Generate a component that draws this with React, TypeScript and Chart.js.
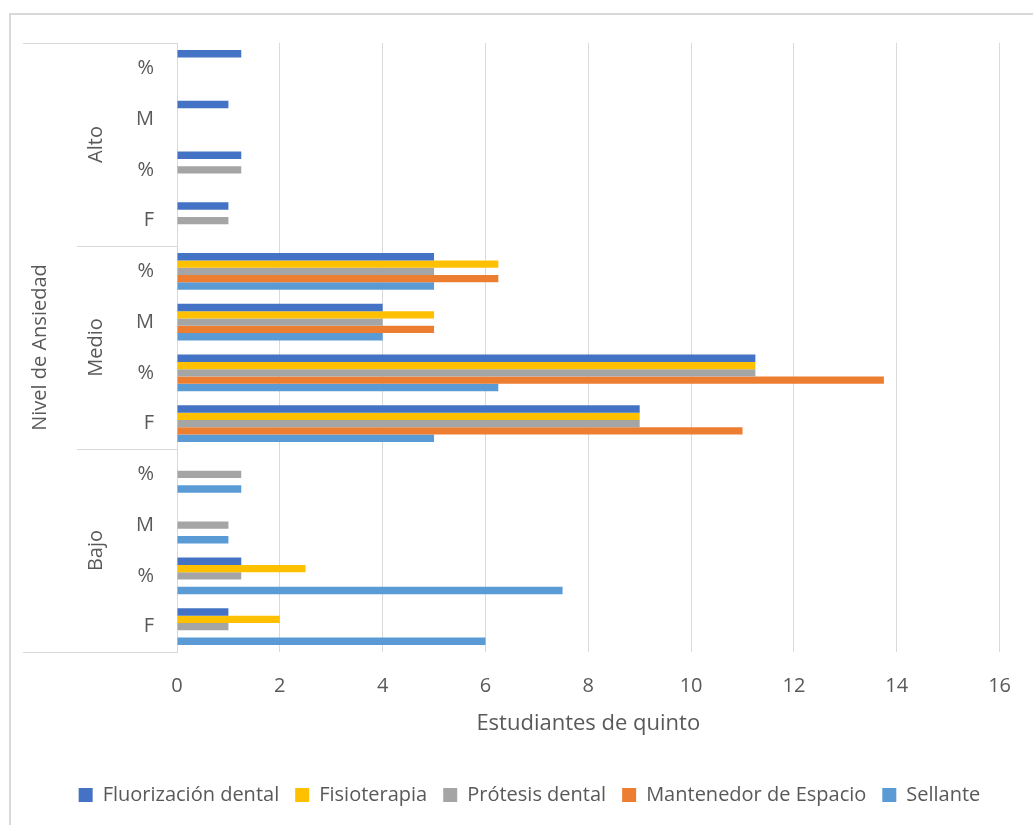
import React, { useEffect, useRef } from 'react';
import { Chart, registerables } from 'chart.js';

Chart.register(...registerables);

// Category labels, top to bottom
const subLabels = ['%', 'M', '%', 'F', '%', 'M', '%', 'F', '%', 'M', '%', 'F'];
const groupLabels = ['Alto', 'Medio', 'Bajo'];
const groupSize = 4;

// Series values (same order as subLabels)
const fluorizacion = [1.25, 1, 1.25, 1, 5, 4, 11.25, 9, null, null, 1.25, 1];
const fisioterapia = [null, null, null, null, 6.25, 5, 11.25, 9, null, null, 2.5, 2];
const protesis = [null, null, 1.25, 1, 5, 4, 11.25, 9, 1.25, 1, 1.25, 1];
const mantenedor = [null, null, null, null, 6.25, 5, 13.75, 11, null, null, null, null];
const sellante = [null, null, null, null, 5, 4, 6.25, 5, 1.25, 1, 7.5, 6];

const seriesNames = ['Fluorización dental', 'Fisioterapia', 'Prótesis dental', 'Mantenedor de Espacio', 'Sellante'];
const seriesValues = [fluorizacion, fisioterapia, protesis, mantenedor, sellante];
const seriesColors = ['#4472C4', '#FFC000', '#A5A5A5', '#ED7D31', '#5B9BD5'];

const xMin = 0;
const xMax = 16;
const xStep = 2;
const xTitle = 'Estudiantes de quinto';
const yTitle = 'Nivel de Ansiedad';

const FONT = "'Open Sans', sans-serif";
const TEXT = '#595959';
const LINE = '#d9d9d9';

const groupPlugin = {
  id: 'groupAxis',
  beforeDraw(chart: any) {
    const ctx = chart.ctx;
    ctx.save();
    ctx.fillStyle = '#ffffff';
    ctx.fillRect(0, 0, chart.width, chart.height);
    ctx.fillStyle = LINE;
    ctx.fillRect(9, 13, 2, chart.height - 13);
    ctx.fillRect(9, 13, chart.width - 9, 2);
    ctx.restore();
  },
  afterLayout(chart: any) {
    const lg = chart.legend;
    if (lg) {
      lg.left += 28;
      lg.right += 28;
    }
  },
  afterDraw(chart: any) {
    const ctx = chart.ctx;
    const y = chart.scales.y;
    const area = chart.chartArea;
    const half = (y.getPixelForValue(1) - y.getPixelForValue(0)) / 2;
    ctx.save();
    ctx.strokeStyle = LINE;
    ctx.lineWidth = 1;
    const line = (x0: number, yy: number) => {
      const py = Math.round(yy) + 0.5;
      ctx.beginPath();
      ctx.moveTo(x0, py);
      ctx.lineTo(area.left, py);
      ctx.stroke();
    };
    groupLabels.forEach((g, i) => {
      const top = y.getPixelForValue(i * groupSize) - half;
      const bottom = y.getPixelForValue(i * groupSize + groupSize - 1) + half;
      line(i === 0 ? 23 : 77, top);
      if (i === groupLabels.length - 1) line(23, bottom);
      ctx.save();
      ctx.translate(96, (top + bottom) / 2);
      ctx.rotate(-Math.PI / 2);
      ctx.fillStyle = TEXT;
      ctx.font = `20px ${FONT}`;
      ctx.textAlign = 'center';
      ctx.textBaseline = 'middle';
      ctx.fillText(g, 0, 0);
      ctx.restore();
    });
    ctx.restore();
  },
};

export default function App() {
  const ref = useRef<HTMLCanvasElement>(null);
  useEffect(() => {
    if (!ref.current) return;
    const chart = new Chart(ref.current, {
      type: 'bar',
      data: {
        labels: subLabels,
        datasets: seriesNames.map((name, i) => ({
          label: name,
          data: seriesValues[i] as any,
          backgroundColor: seriesColors[i],
          borderWidth: 0,
          categoryPercentage: 0.72,
          barPercentage: 1,
        })),
      },
      options: {
        indexAxis: 'y',
        responsive: false,
        animation: false,
        layout: { padding: { top: 43, right: 30, left: 0, bottom: 10 } },
        scales: {
          x: {
            min: xMin,
            max: xMax,
            ticks: { stepSize: xStep, color: TEXT, font: { family: FONT, size: 20 }, padding: 22 },
            grid: { color: LINE, drawTicks: false },
            border: { display: false },
            title: {
              display: true,
              text: xTitle,
              color: TEXT,
              font: { family: FONT, size: 22 },
              padding: { top: 0, bottom: 32 },
            },
            afterFit: (s: any) => { s.height = 117; },
          },
          y: {
            ticks: { color: TEXT, font: { family: FONT, size: 20 }, padding: 23, autoSkip: false },
            grid: { display: true, drawOnChartArea: false, drawTicks: false },
            border: { display: true, color: LINE },
            title: {
              display: true,
              text: yTitle,
              color: TEXT,
              font: { family: FONT, size: 20 },
              padding: { top: 28, bottom: 0 },
            },
            afterFit: (s: any) => { s.width = 177; },
          },
        },
        plugins: {
          legend: {
            position: 'bottom',
            labels: {
              boxWidth: 14,
              boxHeight: 14,
              padding: 16,
              color: TEXT,
              font: { family: FONT, size: 20 },
            },
          },
          tooltip: { enabled: false },
        },
      },
      plugins: [groupPlugin],
    });
    return () => chart.destroy();
  }, []);
  return (
    <div style={{ position: 'absolute', left: 0, top: 0, width: 1033, height: 825 }}>
      <canvas ref={ref} width={1033} height={825} style={{ display: 'block' }} />
    </div>
  );
}
